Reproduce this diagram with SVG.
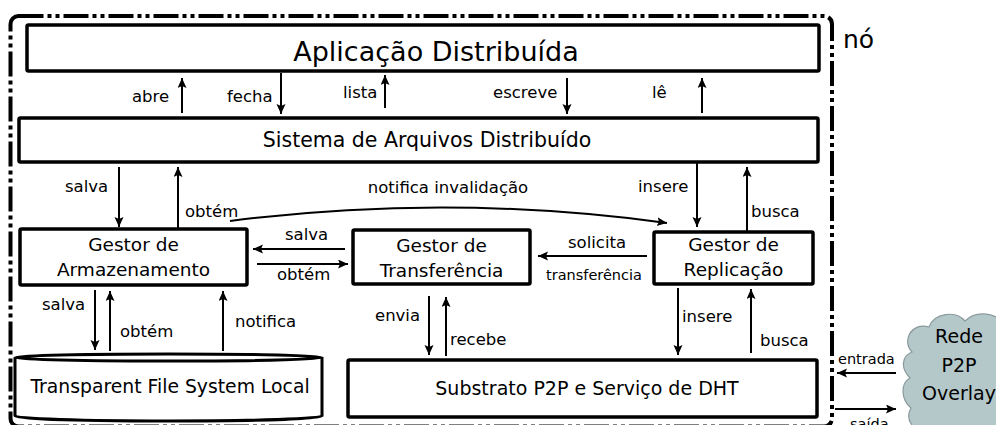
<svg xmlns="http://www.w3.org/2000/svg" width="996" height="425" viewBox="0 0 996 425">
<defs>
<marker id="ah" markerUnits="userSpaceOnUse" markerWidth="12" markerHeight="10" refX="10" refY="4.5" orient="auto">
<path d="M0,0 L10,4.5 L0,9 L2,4.5 z" fill="#000"/>
</marker>
<style>
text{font-family:"DejaVu Sans","Liberation Sans",sans-serif;fill:#000}
.box{fill:#fff;stroke:#000;stroke-width:3.5}
.t19{font-size:18.5px;text-anchor:middle}
.lbl{font-size:16.5px}
.sm{font-size:14.5px}
.arr{stroke:#000;stroke-width:2;fill:none;marker-end:url(#ah)}
</style>
</defs>
<rect width="996" height="425" fill="#fff"/>
<g id="no">
<rect x="10.5" y="16" width="821.5" height="410.5" rx="8" fill="none" stroke="#000" stroke-width="4" stroke-dasharray="25 4 4 4 4 4"/>
<text x="843" y="48" style="font-size:25px">nó</text>
</g>
<g id="aplicacao">
<rect class="box" x="27" y="25" width="792" height="46" rx="1.5"/>
<text x="436" y="61" style="font-size:27px;text-anchor:middle">Aplicação Distribuída</text>
</g>
<g id="sistema">
<rect class="box" x="19" y="118" width="799" height="44" rx="1.5"/>
<text x="427" y="147" style="font-size:20.5px;text-anchor:middle">Sistema de Arquivos Distribuído</text>
</g>
<g id="armazenamento">
<rect class="box" x="20" y="229" width="227" height="56" rx="1.5"/>
<text class="t19" x="133.5" y="251">Gestor de</text>
<text class="t19" x="133.5" y="276">Armazenamento</text>
</g>
<g id="transferencia">
<rect class="box" x="353" y="230" width="177" height="54" rx="1.5"/>
<text class="t19" x="441.5" y="252">Gestor de</text>
<text class="t19" x="441.5" y="277">Transferência</text>
</g>
<g id="replicacao">
<rect class="box" x="654" y="232" width="159" height="52" rx="1.5"/>
<text class="t19" x="733.5" y="251">Gestor de</text>
<text class="t19" x="733.5" y="276">Replicação</text>
</g>
<g id="tfs">
<path d="M15,357.5 L15,416 A153.5,5 0 0 0 322,416 L322,357.5" fill="#fff" stroke="#000" stroke-width="3"/>
<ellipse cx="168.5" cy="357.5" rx="153.5" ry="3.5" fill="#fff" stroke="#000" stroke-width="3"/>
<text x="170" y="393" style="font-size:18.8px;text-anchor:middle">Transparent File System Local</text>
</g>
<g id="substrato">
<rect class="box" x="348" y="360" width="469" height="57" rx="1.5"/>
<text x="587" y="395" style="font-size:19px;text-anchor:middle">Substrato P2P e Serviço de DHT</text>
</g>
<g id="rede">
<path d="M912,352 C902,342 910,322 929,327 C934,313 956,310 965,321 C976,310 998,312 1004,326 L1012,326 L1012,436 L930,436 C914,432 904,420 911,408 C900,398 901,383 910,378 C900,368 902,356 912,352 Z" fill="#b4c7c9" stroke="#8a9b9d" stroke-width="1.2"/>
<text x="959" y="343" style="font-size:19px;text-anchor:middle">Rede</text>
<text x="959" y="372" style="font-size:19px;text-anchor:middle">P2P</text>
<text x="959" y="400" style="font-size:19px;text-anchor:middle">Overlay</text>
</g>
<g id="connectors">
<line class="arr" x1="182" y1="113" x2="182" y2="78"/>
<line class="arr" x1="281" y1="73" x2="281" y2="114"/>
<line class="arr" x1="385" y1="108" x2="385" y2="75"/>
<line class="arr" x1="567" y1="78" x2="567" y2="114"/>
<line class="arr" x1="702" y1="113" x2="702" y2="78"/>
<line class="arr" x1="119" y1="167" x2="119" y2="227"/>
<line class="arr" x1="178" y1="228" x2="178" y2="167"/>
<path class="arr" d="M230,221 Q448,193 667,223"/>
<line class="arr" x1="697" y1="163" x2="697" y2="227"/>
<line class="arr" x1="747" y1="231" x2="747" y2="167"/>
<line class="arr" x1="345" y1="249" x2="253" y2="249"/>
<line class="arr" x1="257" y1="264" x2="348" y2="264"/>
<line class="arr" x1="647" y1="256" x2="538" y2="256"/>
<line class="arr" x1="95" y1="290" x2="95" y2="350"/>
<line class="arr" x1="110" y1="351" x2="110" y2="291"/>
<line class="arr" x1="223" y1="351" x2="223" y2="291"/>
<line class="arr" x1="429" y1="296" x2="429" y2="355"/>
<line class="arr" x1="446" y1="356" x2="446" y2="297"/>
<line class="arr" x1="678" y1="288" x2="678" y2="355"/>
<line class="arr" x1="751" y1="353" x2="751" y2="289"/>
<line class="arr" x1="896" y1="373" x2="837" y2="373"/>
<line class="arr" x1="835" y1="409" x2="896" y2="409"/>
</g>
<g id="labels">
<text class="lbl" x="132" y="102">abre</text>
<text class="lbl" x="227" y="102">fecha</text>
<text class="lbl" x="343" y="98">lista</text>
<text class="lbl" x="493" y="98">escreve</text>
<text class="lbl" x="652" y="98">lê</text>
<text class="lbl" x="65" y="192">salva</text>
<text class="lbl" x="185" y="217">obtém</text>
<text class="lbl" x="448" y="193" style="text-anchor:middle">notifica invalidação</text>
<text class="lbl" x="638" y="192">insere</text>
<text class="lbl" x="751" y="217">busca</text>
<text class="lbl" x="285" y="240">salva</text>
<text class="lbl" x="277" y="280">obtém</text>
<text class="lbl" x="568" y="248">solicita</text>
<text class="sm" x="546" y="280">transferência</text>
<text class="lbl" x="42" y="310">salva</text>
<text class="lbl" x="120" y="337">obtém</text>
<text class="lbl" x="235" y="327">notifica</text>
<text class="lbl" x="375" y="321">envia</text>
<text class="lbl" x="450" y="345">recebe</text>
<text class="lbl" x="682" y="322">insere</text>
<text class="lbl" x="760" y="346">busca</text>
<text class="sm" x="838" y="364">entrada</text>
<text class="sm" x="850" y="429">saída</text>
</g>
</svg>
